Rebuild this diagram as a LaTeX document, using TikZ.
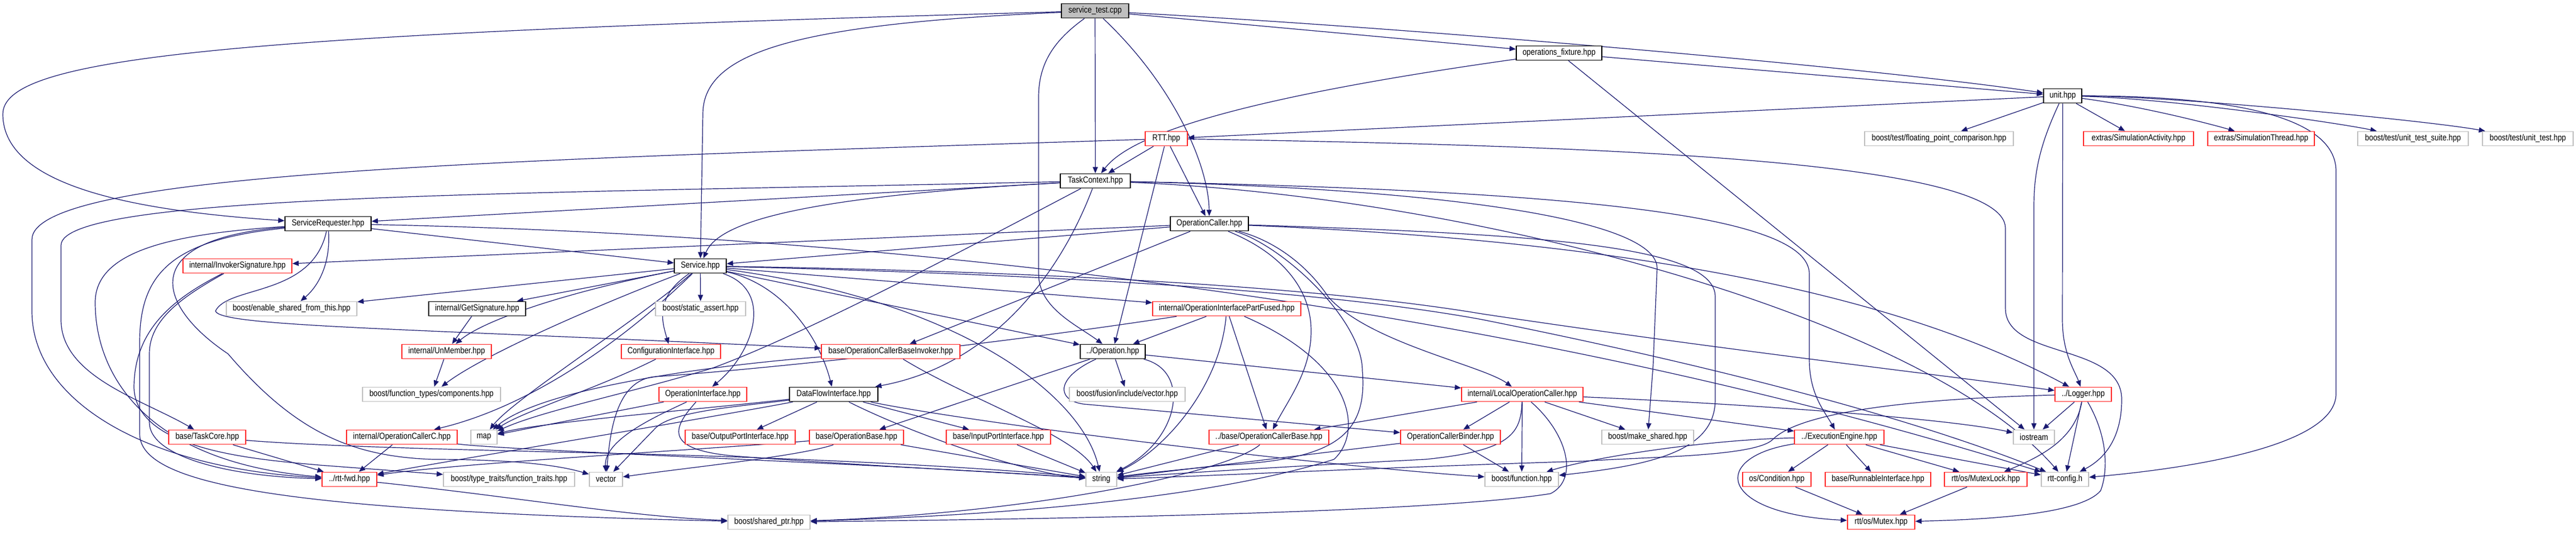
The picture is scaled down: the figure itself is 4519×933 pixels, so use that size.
\documentclass[tikz,border=0pt]{standalone}
\usepackage{fontspec}
\newfontfamily\doxfont{Liberation Sans}[FakeStretch=0.84]
\usetikzlibrary{arrows.meta}
\definecolor{eblue}{RGB}{25,25,112}
\definecolor{nodered}{RGB}{255,40,40}
\definecolor{ngrey}{RGB}{191,191,191}
\newcommand{\allnodes}{%
% row 1-5
\node[blk, boxw=118, fill=ngrey] (st) at (1921,19) {service\_test.cpp};
\node[blk, boxw=150] (of) at (2735,93) {operations\_fixture.hpp};
\node[blk, boxw=67] (unit) at (3618.5,168) {unit.hpp};
\node[rdn, boxw=74] (rtt) at (2046,243) {RTT.hpp};
\node[gyn, boxw=261] (fpc) at (3401.5,243) {boost/test/floating\_point\_comparison.hpp};
\node[rdn, boxw=193] (simact) at (3751.5,243) {extras/SimulationActivity.hpp};
\node[rdn, boxw=187] (simthr) at (3966.5,243) {extras/SimulationThread.hpp};
\node[gyn, boxw=194] (uts) at (4233,243) {boost/test/unit\_test\_suite.hpp};
\node[gyn, boxw=159] (ut) at (4434.5,243) {boost/test/unit\_test.hpp};
\node[blk, boxw=123] (tc) at (1921.5,317) {TaskContext.hpp};
% row 6-7
\node[blk, boxw=151] (sr) at (575.5,392) {ServiceRequester.hpp};
\node[blk, boxw=137] (oc) at (2121.5,392) {OperationCaller.hpp};
\node[rdn, boxw=191] (inv) at (416.5,466) {internal/InvokerSignature.hpp};
\node[blk, boxw=91] (svc) at (1228.5,466) {Service.hpp};
% row 8
\node[gyn, boxw=229] (esft) at (511.5,541) {boost/enable\_shared\_from\_this.hpp};
\node[blk, boxw=170] (gs) at (837,541) {internal/GetSignature.hpp};
\node[gyn, boxw=158] (sa) at (1229,541) {boost/static\_assert.hpp};
\node[rdn, boxw=260] (oipf) at (2152,541) {internal/OperationInterfacePartFused.hpp};
% row 9
\node[rdn, boxw=157] (um) at (783.5,616) {internal/UnMember.hpp};
\node[rdn, boxw=174] (ci) at (1177,616) {ConfigurationInterface.hpp};
\node[rdn, boxw=243] (ocbi) at (1562.5,616) {base/OperationCallerBaseInvoker.hpp};
\node[blk, boxw=114] (op) at (1952,616) {../Operation.hpp};
% row 10
\node[gyn, boxw=242] (ftc) at (757,691) {boost/function\_types/components.hpp};
\node[rdn, boxw=154] (oi) at (1233,691) {OperationInterface.hpp};
\node[blk, boxw=155] (dfi) at (1462.5,691) {DataFlowInterface.hpp};
\node[gyn, boxw=203] (fusion) at (1977.5,691) {boost/fusion/include/vector.hpp};
\node[rdn, boxw=213] (loc) at (2670.5,691) {internal/LocalOperationCaller.hpp};
\node[rdn, boxw=99] (logger) at (3654.5,691) {../Logger.hpp};
% row 11
\node[rdn, boxw=135] (tcore) at (363.5,766) {base/TaskCore.hpp};
\node[rdn, boxw=194] (occ) at (705,766) {internal/OperationCallerC.hpp};
\node[gyn, boxw=46] (map) at (849,766) {map};
\node[rdn, boxw=193] (opi) at (1298.5,766) {base/OutputPortInterface.hpp};
\node[rdn, boxw=165] (ob) at (1502.5,766) {base/OperationBase.hpp};
\node[rdn, boxw=183] (ipi) at (1751.5,766) {base/InputPortInterface.hpp};
\node[rdn, boxw=210] (ocb) at (2226,766) {../base/OperationCallerBase.hpp};
\node[rdn, boxw=175] (ocbinder) at (2544.5,766) {OperationCallerBinder.hpp};
\node[gyn, boxw=161] (mks) at (2890.5,766) {boost/make\_shared.hpp};
\node[rdn, boxw=157] (ee) at (3226.5,766) {../ExecutionEngine.hpp};
\node[gyn, boxw=72] (ios) at (3568,766) {iostream};
% row 12
\node[rdn, boxw=96] (fwd) at (613,840) {../rtt-fwd.hpp};
\node[gyn, boxw=230] (ftr) at (893,840) {boost/type\_traits/function\_traits.hpp};
\node[gyn, boxw=58] (vec) at (1063,840) {vector};
\node[gyn, boxw=54] (str) at (1932,840) {string};
\node[gyn, boxw=129] (bfn) at (2669.5,840) {boost/function.hpp};
\node[rdn, boxw=120] (cond) at (3117,840) {os/Condition.hpp};
\node[rdn, boxw=185] (ri) at (3294.5,840) {base/RunnableInterface.hpp};
\node[rdn, boxw=145] (ml) at (3483.5,840) {rtt/os/MutexLock.hpp};
\node[gyn, boxw=83] (cfg) at (3622.5,840) {rtt-config.h};
% row 13
\node[gyn, boxw=144] (sp) at (1349,915) {boost/shared\_ptr.hpp};
\node[rdn, boxw=118] (mtx) at (3300,915) {rtt/os/Mutex.hpp};
}
\begin{document}
\begin{tikzpicture}[x=0.5pt,y=-0.5pt, color=eblue,
  nbase/.style={draw, line width=0.9pt, inner sep=0pt, minimum height=12.5pt, fill=white, text=black, font=\doxfont\fontsize{7.7pt}{9pt}\selectfont},
  boxw/.style={minimum width=#1*0.5pt},
  blk/.style={nbase, draw=black},
  rdn/.style={nbase, draw=nodered},
  gyn/.style={nbase, draw=ngrey},
  dep/.style={color=eblue, draw=eblue, fill=none, line width=0.6pt, -{Triangle[length=5.5pt,width=4.5pt,fill=eblue]}}]
\useasboundingbox (0,0) rectangle (4519,933);
\allnodes

% service_test.cpp
\draw[dep] (st) -- (of);
\draw[dep] (st) .. controls (2500,50) and (3300,120) .. (unit);
\draw[dep] (st) -- (tc);
\draw[dep] (st) .. controls (2060,150) and (2120,290) .. (oc);
\draw[dep] (st) .. controls (1400,42) and (1233,90) .. (1233,200) -- (svc);
\draw[dep] (st) .. controls (400,60) and (5,100) .. (5,200) .. controls (5,330) and (250,370) .. (sr);
\draw[dep] (st) .. controls (1850,70) and (1822,110) .. (1822,170) -- (1822,480) .. controls (1822,540) and (1890,570) .. (op);
% operations_fixture.hpp
\draw[dep] (of) -- (unit);
\draw[dep] (of) .. controls (2150,175) and (1980,240) .. (tc);
\draw[dep] (of) -- (ios);
% unit.hpp
\draw[dep] (unit) -- (rtt);
\draw[dep] (unit) -- (fpc);
\draw[dep] (unit) -- (simact);
\draw[dep] (unit) .. controls (3750,185) and (3870,215) .. (simthr);
\draw[dep] (unit) .. controls (3800,172) and (4100,215) .. (uts);
\draw[dep] (unit) .. controls (3800,168) and (4250,210) .. (ut);
\draw[dep] (unit) .. controls (3580,250) and (3568,300) .. (3568,360) -- (ios);
\draw[dep] (unit) -- (3618,560) .. controls (3618,620) and (3640,650) .. (logger);
\draw[dep] (unit) .. controls (3900,168) and (4098,200) .. (4098,300) -- (4098,690) .. controls (4098,780) and (3850,820) .. (cfg);
% RTT.hpp
\draw[dep] (rtt) -- (tc);
\draw[dep] (rtt) -- (oc);
\draw[dep] (rtt) -- (op);
\draw[dep] (rtt) .. controls (900,280) and (56,300) .. (56,420) -- (56,545) .. controls (56,700) and (250,820) .. (fwd);
\draw[dep] (rtt) .. controls (2800,255) and (3518,280) .. (3518,400) -- (3518,540) .. controls (3518,630) and (3722,600) .. (3722,700) .. controls (3722,770) and (3690,805) .. (cfg);
% TaskContext.hpp
\draw[dep] (tc) -- (sr);
\draw[dep] (tc) .. controls (1400,345) and (1260,390) .. (svc);
\draw[dep] (tc) .. controls (900,340) and (107,340) .. (107,430) -- (107,560) .. controls (107,660) and (250,700) .. (tcore);
\draw[dep] (tc) .. controls (1860,480) and (1740,640) .. (dfi);
\draw[dep] (tc) .. controls (1650,460) and (1400,590) .. (1250,645) .. controls (1100,690) and (950,720) .. (map);
\draw[dep] (tc) .. controls (2500,330) and (2907,380) .. (2907,470) -- (2900,640) -- (mks);
\draw[dep] (tc) .. controls (2800,335) and (3174,380) .. (3174,480) -- (3174,630) .. controls (3174,690) and (3200,720) .. (ee);
\draw[dep] (tc) .. controls (2600,345) and (3380,560) .. (cfg);
% ServiceRequester.hpp
\draw[dep] (sr) -- (svc);
\draw[dep] (sr) .. controls (580,460) and (560,500) .. (esft);
\draw[dep] (sr) .. controls (548,520) and (400,500) .. (378,545) .. controls (386,572) and (700,575) .. (ocbi);
\draw[dep] (sr) .. controls (300,410) and (167,440) .. (167,530) .. controls (167,660) and (260,810) .. (fwd);
\draw[dep] (sr) .. controls (300,420) and (245,480) .. (245,600) -- (245,760) .. controls (245,850) and (500,895) .. (sp);
\draw[dep] (sr) .. controls (230,420) and (280,540) .. (400,620) .. controls (520,760) and (620,800) .. (760,805) .. controls (900,805) and (980,815) .. (vec);
\draw[dep] (sr) .. controls (1500,410) and (2600,520) .. (cfg);
% internal/InvokerSignature.hpp
\draw[dep] (inv) .. controls (320,520) and (262,560) .. (262,620) -- (262,740) .. controls (262,800) and (400,835) .. (fwd);
\draw[dep] (inv) .. controls (300,525) and (235,580) .. (235,680) .. controls (240,790) and (450,805) .. (560,815) -- (ftr);
% OperationCaller.hpp
\draw[dep] (oc) -- (svc);
\draw[dep] (oc) -- (inv);
\draw[dep] (oc) -- (ocbi);
\draw[dep] (oc) .. controls (2240,440) and (2300,500) .. (2300,580) .. controls (2300,650) and (2260,700) .. (ocb);
\draw[dep] (oc) .. controls (2230,420) and (2290,460) .. (2330,520) .. controls (2400,600) and (2600,640) .. (loc);
\draw[dep] (oc) .. controls (2800,420) and (3300,500) .. (logger);
\draw[dep] (oc) .. controls (2250,430) and (2390,560) .. (2390,650) .. controls (2400,770) and (2330,805) .. (2150,815) .. controls (2050,825) and (2000,830) .. (str);
\draw[dep] (oc) .. controls (2700,410) and (3009,430) .. (3009,520) -- (3009,700) .. controls (3009,790) and (2900,815) .. (bfn);
% Service.hpp
\draw[dep] (svc) -- (gs);
\draw[dep] (svc) -- (sa);
\draw[dep] (svc) -- (esft);
\draw[dep] (svc) .. controls (1000,510) and (850,560) .. (um);
\draw[dep] (svc) .. controls (1060,530) and (850,620) .. (ftc);
\draw[dep] (svc) .. controls (1080,610) and (920,715) .. (occ);
\draw[dep] (svc) .. controls (1150,520) and (1160,560) .. (ci);
\draw[dep] (svc) .. controls (1360,510) and (1320,620) .. (oi);
\draw[dep] (svc) .. controls (1380,500) and (1440,600) .. (dfi);
\draw[dep] (svc) -- (oipf);
\draw[dep] (svc) -- (op);
\draw[dep] (svc) .. controls (1120,560) and (900,700) .. (map);
\draw[dep] (svc) .. controls (1700,530) and (1900,700) .. (str);
\draw[dep] (svc) .. controls (1800,480) and (2300,505) .. (2600,560) .. controls (3000,640) and (3350,730) .. (cfg);
\draw[dep] (svc) .. controls (1800,475) and (2300,500) .. (2600,550) .. controls (3000,610) and (3350,650) .. (logger);
% internal/GetSignature.hpp, UnMember, ConfigurationInterface
\draw[dep] (gs) -- (um);
\draw[dep] (um) -- (ftc);
\draw[dep] (ci) .. controls (1050,680) and (920,720) .. (map);
% base/OperationCallerBaseInvoker.hpp
\draw[dep] (ocbi) .. controls (1250,640) and (950,680) .. (map);
\draw[dep] (ocbi) .. controls (1700,700) and (1880,760) .. (str);
% ../Operation.hpp
\draw[dep] (op) -- (fusion);
\draw[dep] (op) -- (ob);
\draw[dep] (op) -- (loc);
\draw[dep] (op) .. controls (2090,650) and (2070,770) .. (str);
\draw[dep] (op) .. controls (1855,660) and (1850,700) .. (1900,708) -- (ocbinder);
% internal/OperationInterfacePartFused.hpp
\draw[dep] (oipf) -- (op);
\draw[dep] (oipf) -- (ocb);
\draw[dep] (oipf) .. controls (2140,680) and (2040,790) .. (str);
\draw[dep] (oipf) .. controls (1700,610) and (1300,650) .. (1150,660) .. controls (1080,665) and (1070,760) .. (vec);
\draw[dep] (oipf) .. controls (2380,640) and (2390,760) .. (2340,805) .. controls (2100,880) and (1700,905) .. (sp);
% OperationInterface.hpp
\draw[dep] (oi) -- (map);
\draw[dep] (oi) .. controls (1150,730) and (1060,770) .. (vec);
\draw[dep] (oi) .. controls (1180,750) and (1160,790) .. (1300,800) .. controls (1500,815) and (1800,830) .. (str);
% DataFlowInterface.hpp
\draw[dep] (dfi) -- (opi);
\draw[dep] (dfi) -- (ipi);
\draw[dep] (dfi) .. controls (1200,720) and (950,740) .. (map);
\draw[dep] (dfi) .. controls (1300,712) and (1180,720) .. (1150,750) -- (vec);
\draw[dep] (dfi) .. controls (1600,760) and (1800,830) .. (str);
\draw[dep] (dfi) .. controls (1200,740) and (800,805) .. (fwd);
\draw[dep] (dfi) .. controls (1700,740) and (2300,815) .. (bfn);
% internal/LocalOperationCaller.hpp
\draw[dep] (loc) -- (ocb);
\draw[dep] (loc) -- (ocbinder);
\draw[dep] (loc) -- (mks);
\draw[dep] (loc) -- (bfn);
\draw[dep] (loc) -- (ee);
\draw[dep] (loc) .. controls (3000,705) and (3400,730) .. (ios);
\draw[dep] (loc) .. controls (2668,760) and (2650,790) .. (2500,805) .. controls (2300,815) and (2050,830) .. (str);
\draw[dep] (loc) .. controls (2750,760) and (2770,840) .. (2720,865) .. controls (2500,900) and (1800,910) .. (sp);
% ../Logger.hpp
\draw[dep] (logger) -- (ios);
\draw[dep] (logger) .. controls (3640,770) and (3580,800) .. (ml);
\draw[dep] (logger) -- (cfg);
\draw[dep] (logger) .. controls (3695,760) and (3700,820) .. (3685,860) .. controls (3650,900) and (3500,910) .. (mtx);
\draw[dep] (logger) .. controls (3300,700) and (3150,730) .. (3110,770) .. controls (3080,800) and (2900,800) .. (2780,808) .. controls (2400,820) and (2100,835) .. (str);
% ../ExecutionEngine.hpp
\draw[dep] (ee) -- (cond);
\draw[dep] (ee) -- (ri);
\draw[dep] (ee) -- (ml);
\draw[dep] (ee) -- (cfg);
\draw[dep] (ee) .. controls (3000,800) and (3010,900) .. (mtx);
\draw[dep] (ee) .. controls (3000,770) and (2800,800) .. (bfn);
\draw[dep] (cond) -- (mtx);
\draw[dep] (ml) -- (mtx);
% remaining red headers
\draw[dep] (ocb) -- (str);
\draw[dep] (ocb) .. controls (2150,830) and (1800,900) .. (sp);
\draw[dep] (ocbinder) -- (bfn);
\draw[dep] (ocbinder) .. controls (2350,790) and (2100,820) .. (str);
\draw[dep] (ob) .. controls (1400,800) and (1200,820) .. (vec);
\draw[dep] (ob) .. controls (1200,790) and (800,812) .. (fwd);
\draw[dep] (ob) -- (str);
\draw[dep] (ipi) -- (str);
\draw[dep] (occ) -- (fwd);
\draw[dep] (occ) .. controls (900,790) and (1600,815) .. (str);
\draw[dep] (tcore) -- (fwd);
\draw[dep] (tcore) .. controls (560,782) and (800,788) .. (1100,795) .. controls (1500,805) and (1800,825) .. (str);
\draw[dep] (fwd) .. controls (900,870) and (1100,905) .. (sp);

% nodes again on top of the connectors
\allnodes
\end{tikzpicture}
\end{document}
